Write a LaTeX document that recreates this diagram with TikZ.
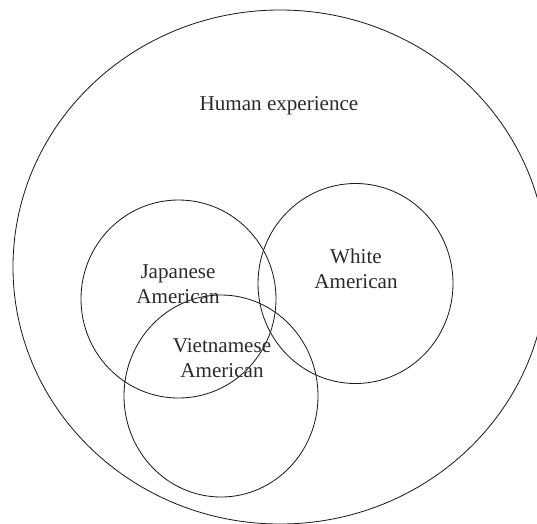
\documentclass[tikz,border=0pt]{standalone}
\usepackage{fontspec}
\setmainfont{Liberation Serif}
\usepackage{xcolor}
\definecolor{inktext}{HTML}{2A2A2A}
\definecolor{inkline}{HTML}{1A1A1A}

\begin{document}
\begin{tikzpicture}[x=0.03cm,y=-0.03cm,
    every node/.style={font=\fontsize{18}{21}\selectfont,align=center,text=inktext},
    setline/.style={draw=inkline,line width=0.7pt}]
    \useasboundingbox (0,0) rectangle (537,523);
    % outer set
    \draw[setline] (280,267) ellipse [x radius=267,y radius=257];
    \node (human) at (279,106) {Human experience};
    % groups
    \draw[setline] (178.5,299) ellipse [x radius=97.5,y radius=99];
    \draw[setline] (355.5,283.5) ellipse [x radius=97.5,y radius=100];
    \draw[setline] (221,396) ellipse [x radius=97,y radius=101];
    \node (japanese) at (178,284) {Japanese\\American};
    \node (white) at (356,269) {White\\American};
    \node (vietnamese) at (222,358) {Vietnamese\\American};
\end{tikzpicture}
\end{document}
